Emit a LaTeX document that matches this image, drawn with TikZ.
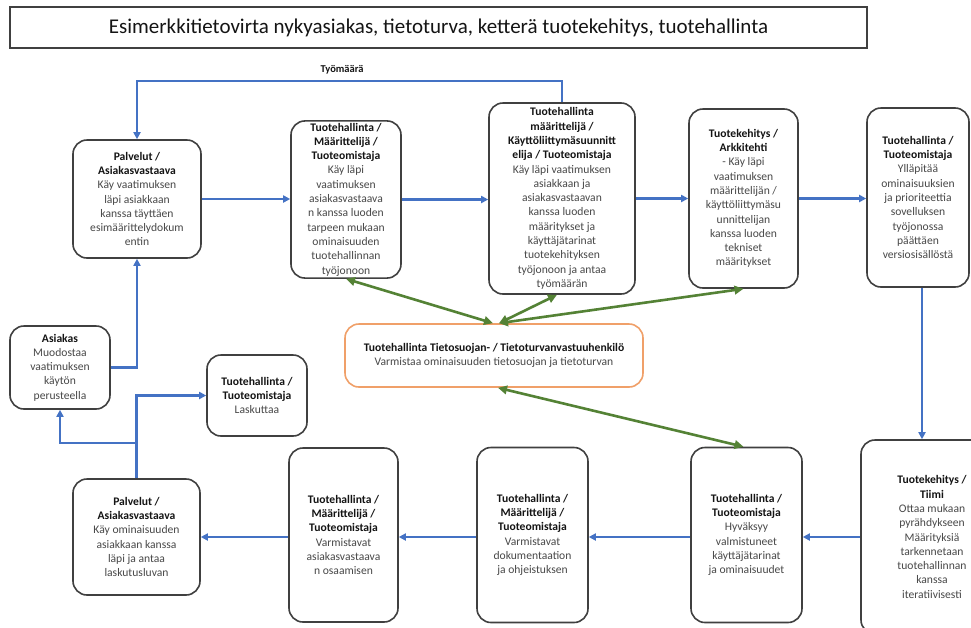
\documentclass[tikz,border=0pt]{standalone}
\usepackage{fontspec}
\setmainfont{Carlito}
\usetikzlibrary{arrows.meta}

\definecolor{boxline}{RGB}{64,64,64}
\definecolor{bodygray}{RGB}{72,72,72}
\definecolor{headblack}{RGB}{20,20,20}
\definecolor{flowblue}{RGB}{68,114,196}
\definecolor{linkgreen}{RGB}{84,130,53}
\definecolor{privorange}{RGB}{240,160,105}

\newcommand\hd[1]{{\bfseries\color{headblack}#1}}

\tikzset{
  box/.style={draw=boxline, line width=1.6pt, rounded corners=14pt, align=center,
    inner sep=2pt, text=bodygray, font=\fontsize{11.6}{14.3}\selectfont},
  flow/.style={draw=flowblue, line width=2.2pt, -{Triangle[length=7pt,width=7pt]}},
  link/.style={draw=linkgreen, line width=2.6pt,
    {Triangle[length=9pt,width=8.5pt]}-{Triangle[length=9pt,width=8.5pt]}},
}

\begin{document}
\begin{tikzpicture}[x=1pt,y=-1pt]
\useasboundingbox (0,0) rectangle (971,627);
\fill[white] (0,0) rectangle (971,627);
\clip (0,0) rectangle (971,627);

% title
\node[draw=boxline, line width=1.6pt, minimum width=857pt, minimum height=41pt,
  font=\fontsize{21}{25}\selectfont, text=headblack] (title) at (438.5,27.5)
  {Esimerkkitietovirta nykyasiakas, tietoturva, ketterä tuotekehitys, tuotehallinta};

% upper row
\node[box, minimum width=128pt, minimum height=118pt] (b1) at (137,199)
  {\hd{Palvelut /}\\\hd{Asiakasvastaava}\\Käy vaatimuksen\\läpi asiakkaan\\kanssa täyttäen\\esimäärittelydokum\\entin};
\node[box, minimum width=110pt, minimum height=157pt] (b2) at (346,199.5)
  {\hd{Tuotehallinta /}\\\hd{Määrittelijä /}\\\hd{Tuoteomistaja}\\Käy läpi\\vaatimuksen\\asiakasvastaava\\n kanssa luoden\\tarpeen mukaan\\ominaisuuden\\tuotehallinnan\\työjonoon};
\node[box, minimum width=146pt, minimum height=191pt] (b3) at (562,198.5)
  {\hd{Tuotehallinta}\\\hd{määrittelijä /}\\\hd{Käyttöliittymäsuunnitt}\\\hd{elija / Tuoteomistaja}\\Käy läpi vaatimuksen\\asiakkaan ja\\asiakasvastaavan\\kanssa luoden\\määritykset ja\\käyttäjätarinat\\tuotekehityksen\\työjonoon ja antaa\\työmäärän};
\node[box, minimum width=109pt, minimum height=179pt] (b4) at (743.5,198.5)
  {\hd{Tuotekehitys /}\\\hd{Arkkitehti}\\- Käy läpi\\vaatimuksen\\määrittelijän /\\käyttöliittymäsu\\unnittelijan\\kanssa luoden\\tekniset\\määritykset};
\node[box, minimum width=102pt, minimum height=179pt] (b5) at (918,197.5)
  {\hd{Tuotehallinta /}\\\hd{Tuoteomistaja}\\Ylläpitää\\ominaisuuksien\\ja prioriteettia\\sovelluksen\\työjonossa\\päättäen\\versiosisällöstä};

% middle band
\node[box, minimum width=100pt, minimum height=83pt] (b6) at (60,367.5)
  {\hd{Asiakas}\\Muodostaa\\vaatimuksen\\käytön\\perusteella};
\node[box, minimum width=100pt, minimum height=81pt] (b7) at (257,395.5)
  {\hd{Tuotehallinta /}\\\hd{Tuoteomistaja}\\Laskuttaa};
\node[box, draw=privorange, minimum width=298pt, minimum height=63pt] (bo) at (494,355.5)
  {\hd{Tuotehallinta Tietosuojan- / Tietoturvanvastuuhenkilö}\\Varmistaa ominaisuuden tietosuojan ja tietoturvan};

% lower row
\node[box, minimum width=127pt, minimum height=116pt] (b9) at (136.5,537)
  {\hd{Palvelut /}\\\hd{Asiakasvastaava}\\Käy ominaisuuden\\asiakkaan kanssa\\läpi ja antaa\\laskutusluvan};
\node[box, minimum width=109pt, minimum height=174pt] (b10) at (343.5,535)
  {\hd{Tuotehallinta /}\\\hd{Määrittelijä /}\\\hd{Tuoteomistaja}\\Varmistavat\\asiakasvastaava\\n osaamisen};
\node[box, minimum width=111pt, minimum height=175pt] (b11) at (532.5,535)
  {\hd{Tuotehallinta /}\\\hd{Määrittelijä /}\\\hd{Tuoteomistaja}\\Varmistavat\\dokumentaation\\ja ohjeistuksen};
\node[box, minimum width=111pt, minimum height=175pt] (b12) at (746.5,535)
  {\hd{Tuotehallinta /}\\\hd{Tuoteomistaja}\\Hyväksyy\\valmistuneet\\käyttäjätarinat\\ja ominaisuudet};
\node[box, minimum width=142pt, minimum height=194pt] (b13) at (932,537)
  {\hd{Tuotekehitys /}\\\hd{Tiimi}\\Ottaa mukaan\\pyrähdykseen\\Määrityksiä\\tarkennetaan\\tuotehallinnan\\kanssa\\iteratiivisesti};

% work estimate loop back to services
\node[font=\fontsize{10.5}{13}\selectfont\bfseries, text=headblack] (wl) at (342,70) {Työmäärä};
\draw[flow] (b3.north) -- ++(0,-21) -| (b1.north);

% main flow, upper row
\draw[flow] (b6.east) -| (b1.south);
\draw[flow] (b1.east) -- (b2.west |- b1.east);
\draw[flow] (b2.east) -- (b3.west |- b2.east);
\draw[flow] (b3.east) -- (b4.west);
\draw[flow] (b4.east) -- (b5.west |- b4.east);
\draw[flow] ([xshift=4pt]b5.south) -- ([xshift=4pt]b5.south |- b13.north);

% main flow, lower row
\draw[flow] (b13.west) -- (b12.east |- b13.west);
\draw[flow] (b12.west |- b13.west) -- (b11.east |- b13.west);
\draw[flow] (b11.west |- b13.west) -- (b10.east |- b13.west);
\draw[flow] (b10.west |- b13.west) -- (b9.east);

% billing and customer feedback
\coordinate (j) at (b9.north |- 0,443);
\draw[flow] (b9.north) |- (b7.west);
\draw[flow] (j) -| (b6.south);

% privacy / security links
\draw[link] (b2.south) -- ([xshift=-1pt]bo.north);
\draw[link] ([xshift=-5pt]b3.south) -- ([xshift=5pt]bo.north);
\draw[link] (b4.south) -- ([xshift=5pt]bo.north);
\draw[link] ([xshift=4pt]bo.south) -- ([xshift=-3pt]b12.north);
\end{tikzpicture}
\end{document}
